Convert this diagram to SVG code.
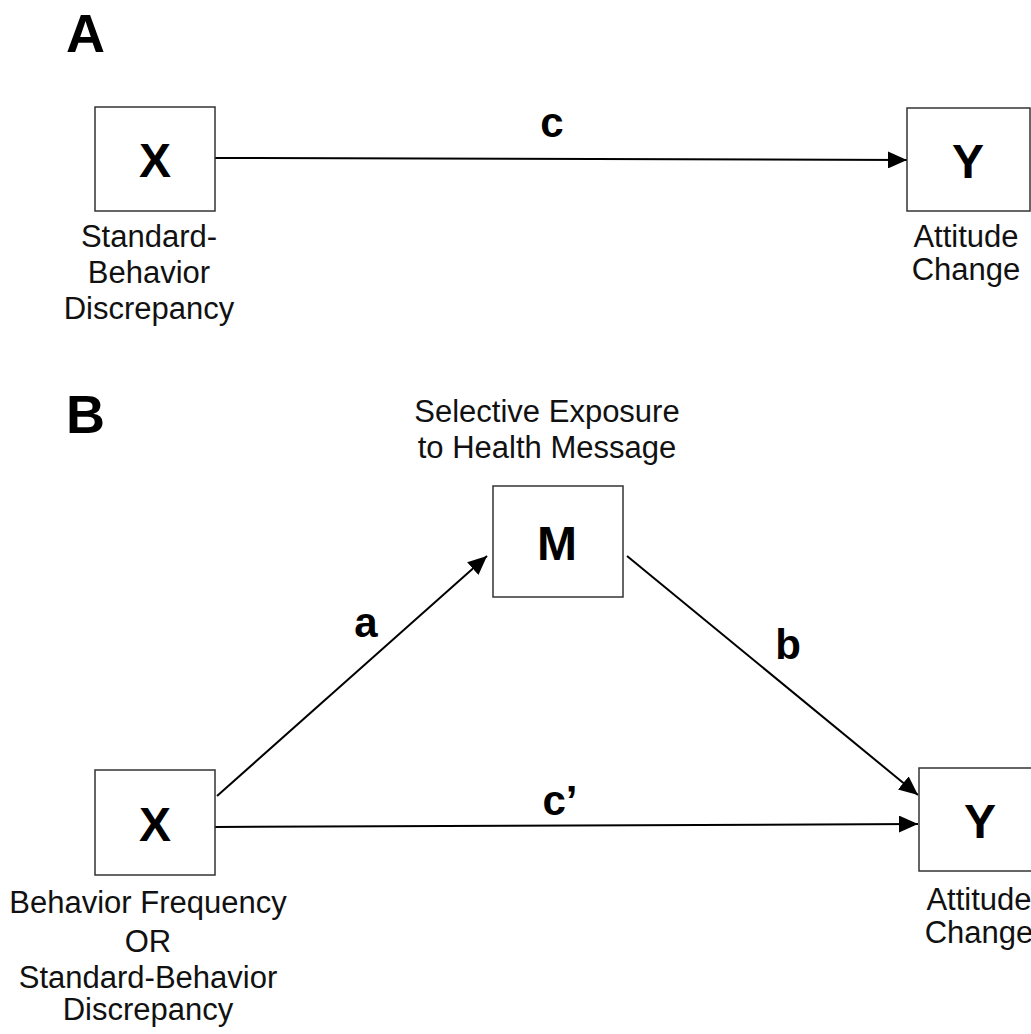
<svg xmlns="http://www.w3.org/2000/svg" width="1031" height="1034" viewBox="0 0 1031 1034">
<style>
.box{fill:#fff;stroke:#333;stroke-width:1.5}
.var{font-family:"Liberation Sans",Arial,sans-serif;font-weight:bold;font-size:48px;text-anchor:middle;fill:#000}
.panel{font-family:"Liberation Sans",Arial,sans-serif;font-weight:bold;font-size:54px;fill:#000}
.lab{font-family:"Liberation Sans",Arial,sans-serif;font-size:31px;text-anchor:middle;fill:#111}
.path{font-family:"Liberation Sans",Arial,sans-serif;font-weight:bold;font-size:42px;text-anchor:middle;fill:#000}
.edge{stroke:#000;stroke-width:2;fill:none;marker-end:url(#ah)}
</style>
<defs>
<marker id="ah" markerUnits="userSpaceOnUse" markerWidth="19" markerHeight="17" refX="19" refY="8.5" orient="auto">
<path d="M0,0 L19,8.5 L0,17 z" fill="#000"/>
</marker>
</defs>
<rect width="1031" height="1034" fill="#fff"/>
<text class="panel" x="66" y="52">A</text>
<text class="panel" x="66" y="433">B</text>

<g id="connectors">
<line class="edge" x1="215" y1="158" x2="907" y2="160"/>
<text class="path" x="552" y="137">c</text>
<line class="edge" x1="217" y1="796" x2="487" y2="556"/>
<text class="path" x="366" y="637">a</text>
<line class="edge" x1="627" y1="556" x2="918" y2="795"/>
<text class="path" x="788" y="659">b</text>
<line class="edge" x1="215" y1="827" x2="918" y2="824"/>
<text class="path" x="560" y="815">c’</text>
</g>

<g id="nodeA_X">
<rect class="box" x="95" y="107" width="120" height="104"/>
<text class="var" x="155" y="177">X</text>
<text class="lab" x="149" y="247">Standard-</text>
<text class="lab" x="149" y="283">Behavior</text>
<text class="lab" x="149" y="319">Discrepancy</text>
</g>
<g id="nodeA_Y">
<rect class="box" x="907" y="108" width="123" height="103"/>
<text class="var" x="968" y="178">Y</text>
<text class="lab" x="966" y="247">Attitude</text>
<text class="lab" x="966" y="280">Change</text>
</g>
<g id="nodeB_M">
<rect class="box" x="493" y="486" width="130" height="111"/>
<text class="var" x="557" y="560">M</text>
<text class="lab" x="547" y="422">Selective Exposure</text>
<text class="lab" x="547" y="458">to Health Message</text>
</g>
<g id="nodeB_X">
<rect class="box" x="95" y="770" width="120" height="105"/>
<text class="var" x="155" y="841">X</text>
<text class="lab" x="148" y="913">Behavior Frequency</text>
<text class="lab" x="148" y="952">OR</text>
<text class="lab" x="148" y="988">Standard-Behavior</text>
<text class="lab" x="148" y="1020">Discrepancy</text>
</g>
<g id="nodeB_Y">
<rect class="box" x="919" y="768" width="125" height="103"/>
<text class="var" x="980" y="838">Y</text>
<text class="lab" x="979" y="910">Attitude</text>
<text class="lab" x="979" y="943">Change</text>
</g>
</svg>
